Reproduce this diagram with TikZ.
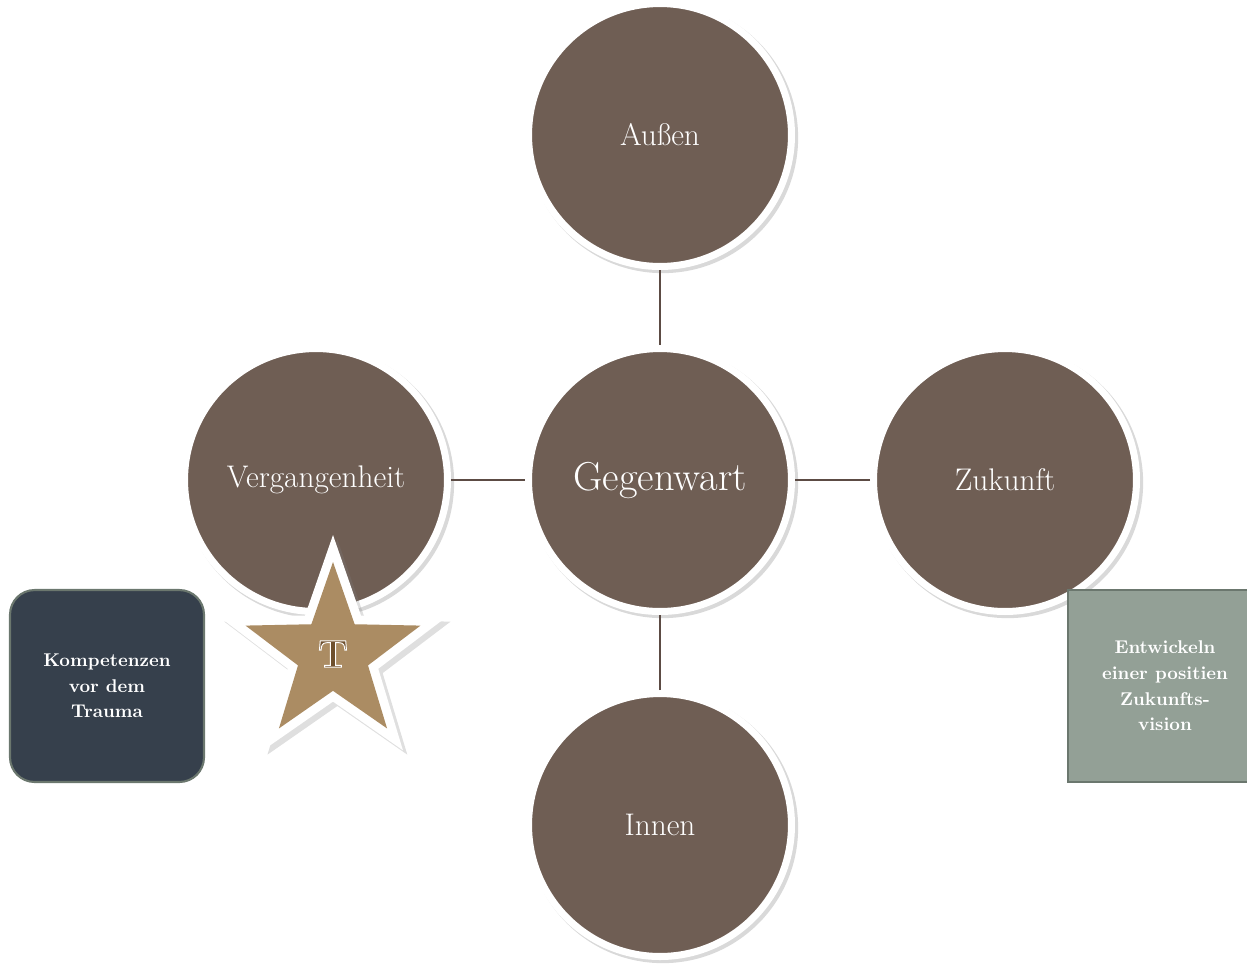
\documentclass[tikz,border=0pt]{standalone}
\usepackage{fontspec}
\usetikzlibrary{shapes.geometric, shadows}

\definecolor{circlebrown}{RGB}{111,94,84}
\definecolor{linkbrown}{RGB}{92,75,68}
\definecolor{startan}{RGB}{171,140,99}
\definecolor{tbrown}{RGB}{110,80,46}
\definecolor{slate}{RGB}{54,64,76}
\definecolor{sage}{RGB}{147,160,150}
\definecolor{sageborder}{RGB}{107,119,110}

\begin{document}
\begin{tikzpicture}[x=0.02cm, y=-0.02cm]
        \tikzstyle{state}=[circle, draw=white, line width=4pt, fill=circlebrown, minimum size=5.26cm, text=white, font=\fontsize{17.8}{20}\selectfont, drop shadow={shadow scale=1.03, shadow xshift=1.5pt, shadow yshift=-1.5pt, opacity=0.3}];
        \tikzstyle{link}=[-, line width=1.2pt, draw=linkbrown];
        \tikzstyle{box}=[minimum width=3.88cm, minimum height=3.84cm, line width=1.2pt, text=white, align=center, font=\fontsize{10.5}{14.6}\selectfont\bfseries];
        \tikzstyle{tletter}=[inner sep=0, text=tbrown, font=\fontsize{22}{22}\selectfont\bfseries];

        \useasboundingbox (0, 0) rectangle (1247, 965);

        \node (0) at (660, 480) [state, font=\fontsize{23}{26}\selectfont] {Gegenwart};
        \node (1) at (660, 135) [state] {Außen};
        \node (2) at (660, 825) [state] {Innen};
        \node (3) at (316, 480) [state] {Vergangenheit};
        \node (4) at (1005, 480) [state] {Zukunft};

        \draw (1) edge[link] (0);
        \draw (2) edge[link] (0);
        \draw (3) edge[link] (0);
        \draw (4) edge[link] (0);

        % boxes
        \node[box, rounded corners=14pt, draw=sageborder, fill=slate] (7) at (107, 686) {Kompetenzen\\vor dem\\Trauma};
        \node[box, draw=sageborder, fill=sage] (8) at (1165, 686) {Entwickeln\\einer positien\\Zukunfts-\\vision};

        % star
        \node[star, star points=5, star point ratio=2.5, minimum size=4.76cm, inner sep=0, fill=white, drop shadow={shadow xshift=2.5pt, shadow yshift=-2.5pt, opacity=0.25}] (5) at (333, 654) {};
        \node[star, star points=5, star point ratio=2.5, minimum size=3.68cm, inner sep=0, fill=startan] (6) at (333, 654) {};
        \node[tletter] (9) at (6.center) {\special{pdf:literal direct 2 Tr 0.55 w 1 1 1 RG}T\special{pdf:literal direct 0 Tr}};
    \end{tikzpicture}
\end{document}
